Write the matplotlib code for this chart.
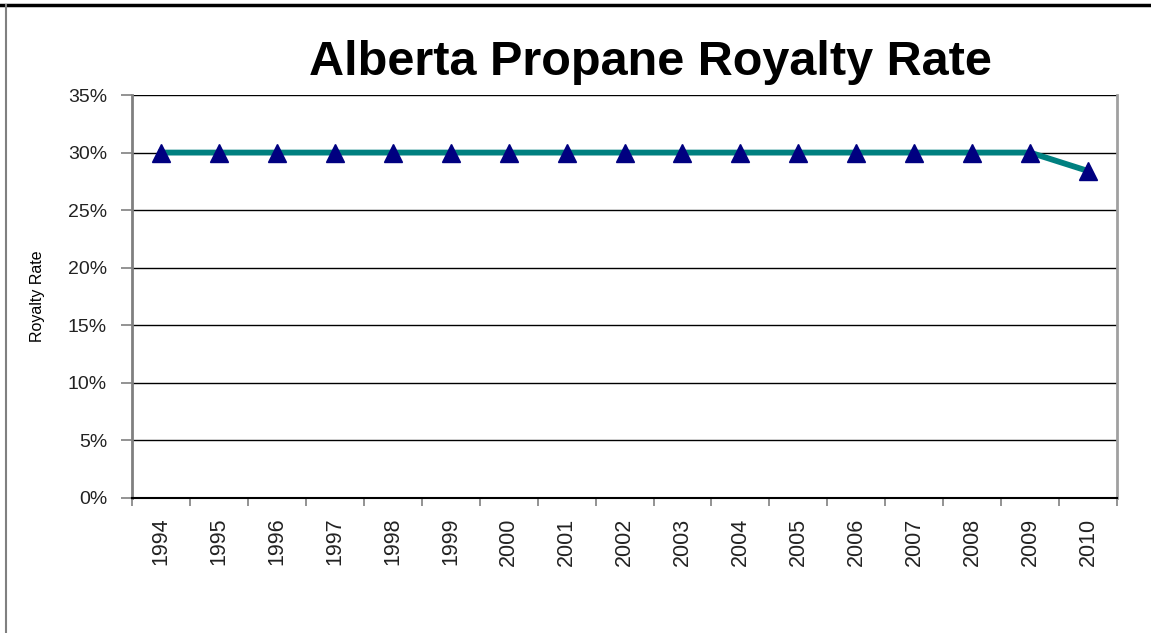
import matplotlib
matplotlib.use("Agg")
import matplotlib.pyplot as plt
from matplotlib.lines import Line2D
from matplotlib.ticker import FixedLocator, FuncFormatter

years = [str(y) for y in range(1994, 2011)]
rates = [30, 30, 30, 30, 30, 30, 30, 30, 30, 30, 30, 30, 30, 30, 30, 30, 28.4]
yticks = [0, 5, 10, 15, 20, 25, 30, 35]

plt.rcParams["font.family"] = ["Liberation Sans", "DejaVu Sans"]

fig = plt.figure(figsize=(11.51, 6.33), dpi=100)
ax = fig.add_axes([0.1147, 0.2133, 0.8558, 0.6366])

x = list(range(len(years)))
ax.plot(x, rates, color="#008080", lw=4.2, zorder=3,
        marker="^", markersize=13, markerfacecolor="#000080",
        markeredgecolor="#000080", clip_on=False)

ax.set_xlim(-0.5, len(years) - 0.5)
ax.set_ylim(0, 35)
ax.set_yticks(yticks)
ax.yaxis.set_major_formatter(FuncFormatter(lambda v, p: f"{v:.0f}%"))
for v in yticks[1:]:
    ax.axhline(v, color="black", lw=1.0, zorder=1)

ax.set_xticks(x)
ax.set_xticklabels(years, rotation=90, fontsize=15.5)
ax.xaxis.set_minor_locator(FixedLocator([i - 0.5 for i in range(len(years) + 1)]))
ax.tick_params(axis="x", which="major", length=0, pad=14)
ax.tick_params(axis="x", which="minor", length=6, color="#808080", width=1.2)
ax.tick_params(axis="y", length=8, color="#808080", width=1.2, labelsize=14,
               labelcolor="#222222", pad=10)
ax.tick_params(axis="x", labelcolor="#222222")

ax.spines["left"].set_color("#808080")
ax.spines["left"].set_linewidth(2)
ax.spines["right"].set_color("#a0a0a0")
ax.spines["right"].set_linewidth(2)
ax.spines["bottom"].set_color("black")
ax.spines["bottom"].set_linewidth(1.5)
ax.spines["top"].set_visible(False)

ax.set_ylabel("Royalty Rate", fontsize=11.5)
ax.yaxis.set_label_coords(-0.088, 0.5)
fig.text(0.565, 0.902, "Alberta Propane Royalty Rate", ha="center", va="center",
         fontsize=35, fontweight="bold")

# page frame from the screenshot
fig.add_artist(Line2D([0, 1], [0.992, 0.992], color="black", lw=2.5,
                      transform=fig.transFigure))
fig.add_artist(Line2D([0.0055, 0.0055], [0, 0.992], color="#808080", lw=1.5,
                      transform=fig.transFigure))

fig.savefig("out.png", dpi=100)
